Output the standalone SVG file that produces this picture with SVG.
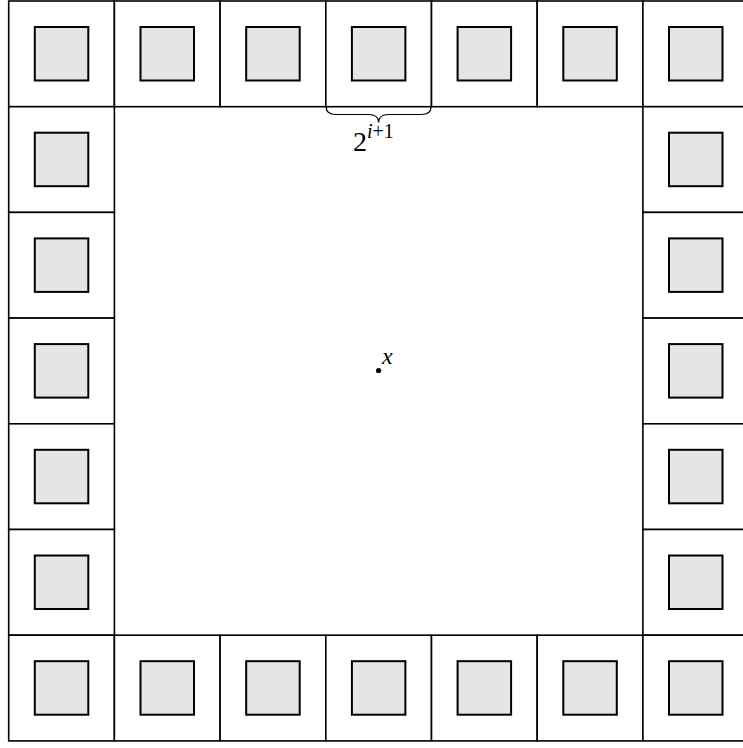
<svg xmlns="http://www.w3.org/2000/svg" width="743" height="748" viewBox="0 0 743 748">
<style>
.cell{fill:#fff;stroke:#000;stroke-width:1.6}
.box{fill:#e5e5e5;stroke:#000;stroke-width:2}
.t{font-family:"Liberation Serif","DejaVu Serif",serif;fill:#000}
</style>
<defs>
<g id="c"><rect class="cell" x="0" y="0" width="105.7" height="105.7"/><rect class="box" x="26.1" y="26" width="53.5" height="53.5"/></g>
</defs>
<g id="ring">
<g id="n0_0"><use href="#c" x="8.7" y="1"/></g>
<g id="n0_1"><use href="#c" x="114.4" y="1"/></g>
<g id="n0_2"><use href="#c" x="220.1" y="1"/></g>
<g id="n0_3"><use href="#c" x="325.8" y="1"/></g>
<g id="n0_4"><use href="#c" x="431.5" y="1"/></g>
<g id="n0_5"><use href="#c" x="537.2" y="1"/></g>
<g id="n0_6"><use href="#c" x="642.9" y="1"/></g>
<g id="n1_0"><use href="#c" x="8.7" y="106.7"/></g>
<g id="n1_6"><use href="#c" x="642.9" y="106.7"/></g>
<g id="n2_0"><use href="#c" x="8.7" y="212.4"/></g>
<g id="n2_6"><use href="#c" x="642.9" y="212.4"/></g>
<g id="n3_0"><use href="#c" x="8.7" y="318.1"/></g>
<g id="n3_6"><use href="#c" x="642.9" y="318.1"/></g>
<g id="n4_0"><use href="#c" x="8.7" y="423.8"/></g>
<g id="n4_6"><use href="#c" x="642.9" y="423.8"/></g>
<g id="n5_0"><use href="#c" x="8.7" y="529.5"/></g>
<g id="n5_6"><use href="#c" x="642.9" y="529.5"/></g>
<g id="n6_0"><use href="#c" x="8.7" y="635.2"/></g>
<g id="n6_1"><use href="#c" x="114.4" y="635.2"/></g>
<g id="n6_2"><use href="#c" x="220.1" y="635.2"/></g>
<g id="n6_3"><use href="#c" x="325.8" y="635.2"/></g>
<g id="n6_4"><use href="#c" x="431.5" y="635.2"/></g>
<g id="n6_5"><use href="#c" x="537.2" y="635.2"/></g>
<g id="n6_6"><use href="#c" x="642.9" y="635.2"/></g>
</g>
<g id="brace">
<path d="M326.2,107 Q326.2,114.5 336,114.5 L368.5,114.5 Q378.6,114.5 378.6,122.5 Q378.6,114.5 388.7,114.5 L421.2,114.5 Q431,114.5 431,107" fill="none" stroke="#000" stroke-width="1.2"/>
<text class="t" x="353" y="151" font-size="28">2</text>
<text class="t" x="367" y="138" font-size="20"><tspan font-style="italic">i</tspan>+1</text>
</g>
<g id="x">
<circle cx="378.6" cy="370.5" r="2.6" fill="#000"/>
<text class="t" x="382" y="364" font-size="24" font-style="italic">x</text>
</g>
</svg>
